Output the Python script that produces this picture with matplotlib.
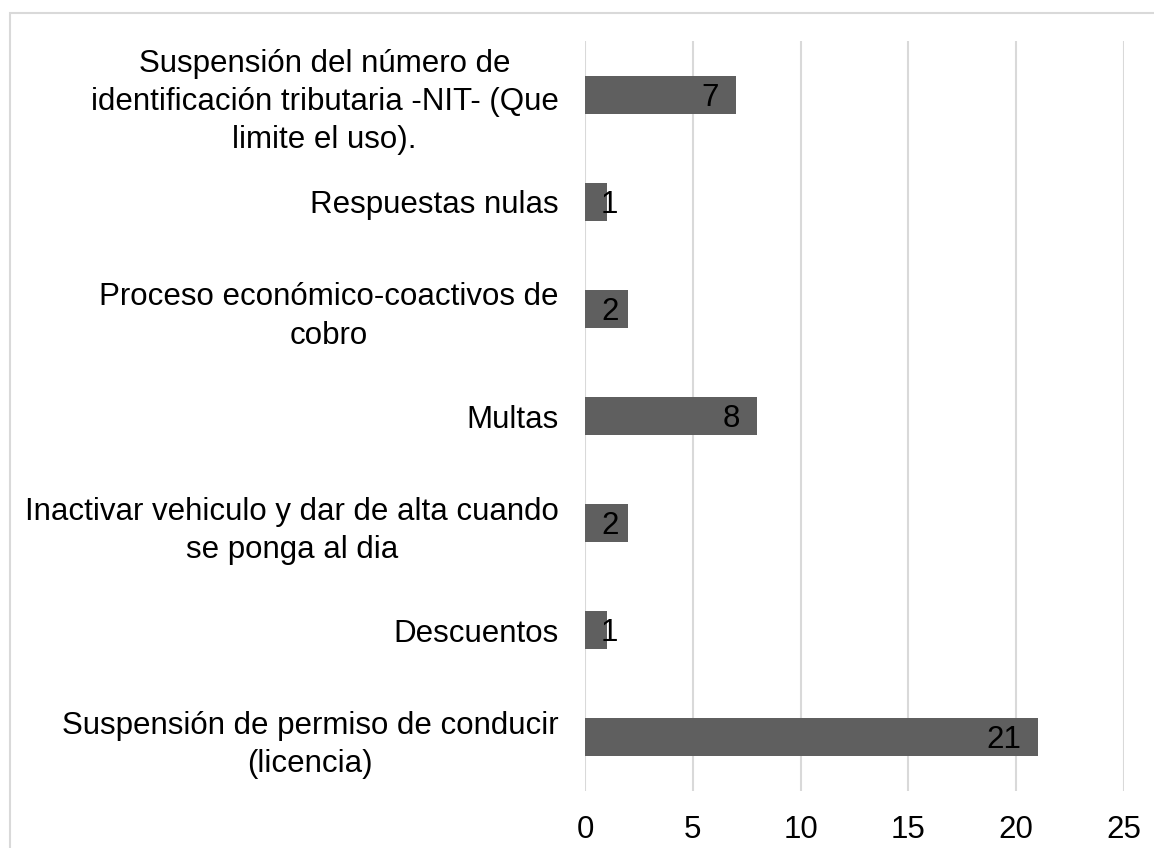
import matplotlib
matplotlib.use("Agg")
import matplotlib.pyplot as plt
from matplotlib.patches import Rectangle

categories = [
    "Suspensión del número de\nidentificación tributaria -NIT- (Que\nlimite el uso).",
    "Respuestas nulas",
    "Proceso económico-coactivos de\ncobro",
    "Multas",
    "Inactivar vehiculo y dar de alta cuando\nse ponga al dia",
    "Descuentos",
    "Suspensión de permiso de conducir\n(licencia)",
]
values = [7, 1, 2, 8, 2, 1, 21]
xticks = [0, 5, 10, 15, 20, 25]

plt.rcParams['font.family'] = ['Liberation Sans', 'DejaVu Sans']
FS = 22.5
W, H = 1154, 848
fig = plt.figure(figsize=(W / 100, H / 100), dpi=100)
fig.patch.set_facecolor('white')

# outer chart border (cropped at right and bottom)
fig.patches.append(Rectangle((10 / W, -0.1), 1.2, (H - 13) / H + 0.1,
                             transform=fig.transFigure, fill=False,
                             edgecolor='#d9d9d9', linewidth=1.5))

ax = fig.add_axes([585 / W, 57 / H, (1124 - 585) / W, (791 - 41) / H])
ypos = list(range(len(categories)))
ax.barh(ypos, values, height=0.355, color='#5f5f5f', zorder=3)
ax.set_ylim(len(categories) - 0.5, -0.5)
ax.set_xlim(0, 25)
ax.set_xticks(xticks)
ax.set_xticklabels([str(t) for t in xticks], fontsize=FS)
ax.set_yticks(ypos)
ax.set_yticklabels(categories, fontsize=FS)
ax.tick_params(axis='x', length=0, pad=17)
ax.tick_params(axis='y', length=0, pad=19)
for lab in ax.get_yticklabels():
    lab.set_multialignment('center')
    lab.set_linespacing(1.36)
for s in ax.spines.values():
    s.set_visible(False)
ax.grid(axis='x', color='#d9d9d9', linewidth=1.5, zorder=0)
ax.set_axisbelow(True)

# data labels (inside end, clamped to the bar start)
fig.canvas.draw()
renderer = fig.canvas.get_renderer()
x0_pix = ax.transData.transform((0, 0))[0]
for y, v in zip(ypos, values):
    t = ax.annotate(str(v), xy=(v, y), xytext=(-17, -3), textcoords='offset pixels',
                    ha='right', va='center', fontsize=FS, color='black', zorder=4)
    bb = t.get_window_extent(renderer)
    if bb.x0 < x0_pix + 16:
        t.remove()
        ax.annotate(str(v), xy=(0, y), xytext=(16, -3), textcoords='offset pixels',
                    ha='left', va='center', fontsize=FS, color='black', zorder=4)

fig.savefig('out.png', dpi=100, facecolor='white')
